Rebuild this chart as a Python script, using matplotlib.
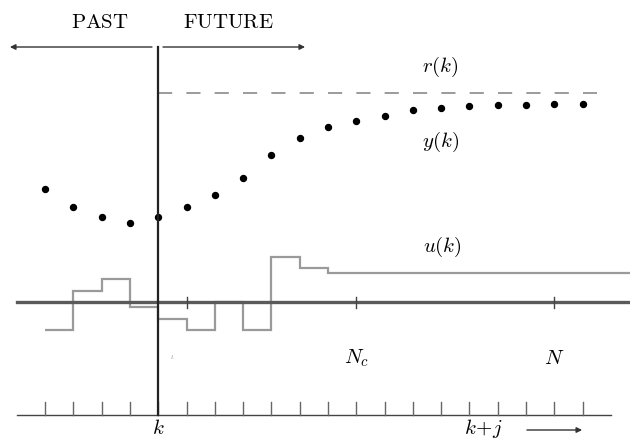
import numpy as np
import matplotlib
matplotlib.use('Agg')
import matplotlib.pyplot as plt

plt.rcParams['mathtext.fontset'] = 'cm'
plt.rcParams['font.family'] = 'serif'

# sample positions on the time axis (k sits at index 4)
steps = np.arange(20)
k_idx = 4

# y(k): measured / predicted output, one dot per sample
y_out = [252, 234, 224, 218, 224, 234, 246, 263, 286, 303,
         314, 320, 325, 331, 333, 335, 336, 336, 337, 337]

# r(k): set point level
r_level = 348

# u(k): input moves relative to the zero line
u_zero = 139
u_edges = [0, 1, 2, 3, 4, 5, 6, 7, 8, 9, 10, 20.7]
u_vals = [-28, 11, 23, -5, -17, -28, 0, -28, 45, 34, 29]

# horizon marks on the zero line
horizon_ticks = [5, 11, 18]
horizon_labels = ['', r'$N_c$', r'$N$']

axis_y = 26
tick_h = 13

fig = plt.figure(figsize=(6.3, 4.41), dpi=100)
ax = fig.add_axes([0, 0, 1, 1])
ax.set_xlim(-45 / 28.3, 585 / 28.3)
ax.set_ylim(0, 441)
ax.axis('off')

# bottom time axis with ticks
ax.plot([-1, 20], [axis_y, axis_y], color='#444444', lw=1.0)
for s in steps:
    ax.plot([s, s], [axis_y, axis_y + tick_h], color='#666666', lw=1.0)

# zero line of u
ax.plot([-1, 20.7], [u_zero, u_zero], color='#5a5a5a', lw=2.4)
for t in horizon_ticks:
    ax.plot([t, t], [u_zero - 6, u_zero + 5], color='#444444', lw=1.0)

# u(k) staircase
ax.stairs(np.array(u_vals) + u_zero, u_edges, baseline=None,
          color='#9a9a9a', lw=1.6)

# r(k) dashed
ax.plot([k_idx, 19.5], [r_level, r_level], color='#8a8a8a', lw=1.2,
        dashes=(8.5, 8.5))

# y(k) dots
ax.plot(steps, y_out, 'o', color='black', ms=4.3)

# present time line
ax.plot([k_idx, k_idx], [axis_y, 394], color='#222222', lw=1.6)

# past / future arrows
arr = dict(arrowstyle='-|>', color='#333333', lw=1.0, mutation_scale=8,
           shrinkA=0, shrinkB=0)
ax.annotate('', xy=(-1.24, 394), xytext=(3.78, 394), arrowprops=arr)
ax.annotate('', xy=(9.19, 394), xytext=(4.17, 394), arrowprops=arr)
ax.text(1.94, 418, r'$\mathrm{PAST}$', ha='center', va='center', fontsize=15)
ax.text(6.47, 418, r'$\mathrm{FUTURE}$', ha='center', va='center', fontsize=15)

# signal labels
ax.text(13.96, 374, r'$r(k)$', ha='center', va='center', fontsize=15)
ax.text(13.96, 299, r'$y(k)$', ha='center', va='center', fontsize=15)
ax.text(14.03, 194, r'$u(k)$', ha='center', va='center', fontsize=15)

# horizon labels
for t, lab in zip(horizon_ticks, horizon_labels):
    if lab:
        ax.text(t, 83, lab, ha='center', va='center', fontsize=15)
ax.text(4.5, 84, r'$\iota$', ha='center', va='center', fontsize=6, color='#999999')

# time labels
ax.text(k_idx, 12, r'$k$', ha='center', va='center', fontsize=15)
ax.text(15.48, 12, r'$k\!+\!j$', ha='center', va='center', fontsize=15)
ax.annotate('', xy=(18.98, 11), xytext=(17.03, 11), arrowprops=arr)

fig.savefig('out.png', dpi=100)
